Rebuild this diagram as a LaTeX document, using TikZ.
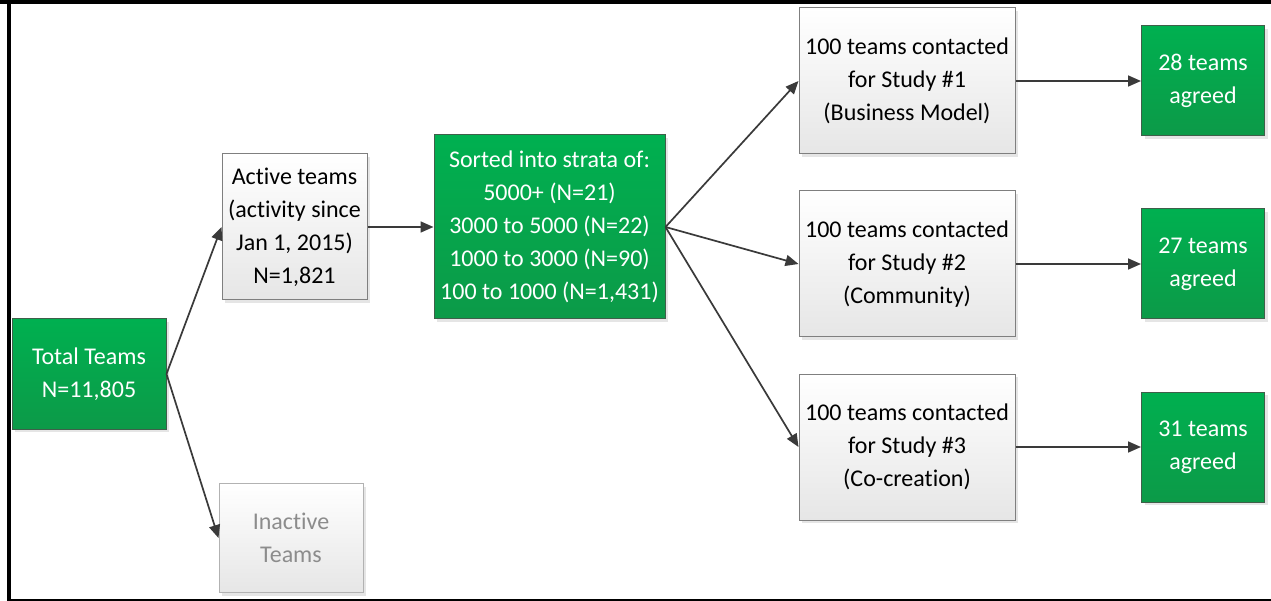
\documentclass[tikz,border=0pt]{standalone}
\usepackage{fontspec}
\setmainfont{Carlito}[RawFeature={-liga;-clig;-calt;-dlig}]
\usetikzlibrary{arrows.meta,shadows}
\definecolor{gtop}{HTML}{00B050}
\definecolor{gbot}{HTML}{0C9A48}
\definecolor{gedge}{HTML}{3F5F4A}
\definecolor{wbot}{HTML}{E6E6E6}
\definecolor{wedge}{HTML}{7F7F7F}
\definecolor{arrowc}{HTML}{3A3A3A}
\definecolor{fadetext}{HTML}{8C8C8C}
\tikzset{
  boxbase/.style={rectangle, line width=1pt, align=center, inner sep=2pt,
    font=\fontsize{24}{33}\selectfont,
    general shadow={fill=black!10, shadow xshift=3pt, shadow yshift=-3pt}},
  greenbox/.style={boxbase, draw=gedge, top color=gtop, bottom color=gbot, text=white},
  whitebox/.style={boxbase, draw=wedge, top color=white, bottom color=wbot, text=black},
  fadebox/.style={whitebox, draw=wedge!60, text=fadetext},
  flow/.style={draw=arrowc, line width=1.7pt, -{Triangle[length=13pt,width=11pt]}}
}
\begin{document}
\begin{tikzpicture}[x=1pt,y=-1pt]
\useasboundingbox (0,0) rectangle (1271,601);
\fill[white] (0,0) rectangle (1271,601);
% frame
\fill[black] (0,0) rectangle (1271,4);
\fill[black] (7,0) rectangle (10.5,601);
\fill[black] (7,599) rectangle (1271,601);

% nodes
\node[greenbox, minimum width=154, minimum height=110] (total) at (89,374) {Total Teams\\N=11,805};
\node[whitebox, minimum width=145, minimum height=146] (active) at (294.5,227) {Active teams\\(activity since\\Jan 1, 2015)\\N=1,821};
\node[fadebox, minimum width=144, minimum height=109] (inactive) at (291,538) {Inactive\\Teams};
\node[greenbox, minimum width=231, minimum height=184] (strata) at (549.5,227) {Sorted into strata of:\\5000+ (N=21)\\3000 to 5000 (N=22)\\1000 to 3000 (N=90)\\100 to 1000 (N=1,431)};

\node[whitebox, minimum width=216, minimum height=146] (s1) at (907,81) {100 teams contacted\\for Study \#1\\(Business Model)};
\node[whitebox, minimum width=216, minimum height=146] (s2) at (907,264) {100 teams contacted\\for Study \#2\\(Community)};
\node[whitebox, minimum width=216, minimum height=146] (s3) at (907,447) {100 teams contacted\\for Study \#3\\(Co-creation)};

\node[greenbox, minimum width=123, minimum height=110] (a1) at (1203,81) {28 teams\\agreed};
\node[greenbox, minimum width=123, minimum height=110] (a2) at (1203,264) {27 teams\\agreed};
\node[greenbox, minimum width=123, minimum height=110] (a3) at (1203,447) {31 teams\\agreed};

% connectors
\draw[flow] (total.east) -- (active.west);
\draw[flow] (total.east) -- (inactive.west);
\draw[flow] (active.east) -- (strata.west);
\draw[flow] (strata.east) -- (s1.west);
\draw[flow] (strata.east) -- (s2.west);
\draw[flow] (strata.east) -- (s3.west);
\draw[flow] (s1.east) -- (a1.west);
\draw[flow] (s2.east) -- (a2.west);
\draw[flow] (s3.east) -- (a3.west);
\end{tikzpicture}
\end{document}
